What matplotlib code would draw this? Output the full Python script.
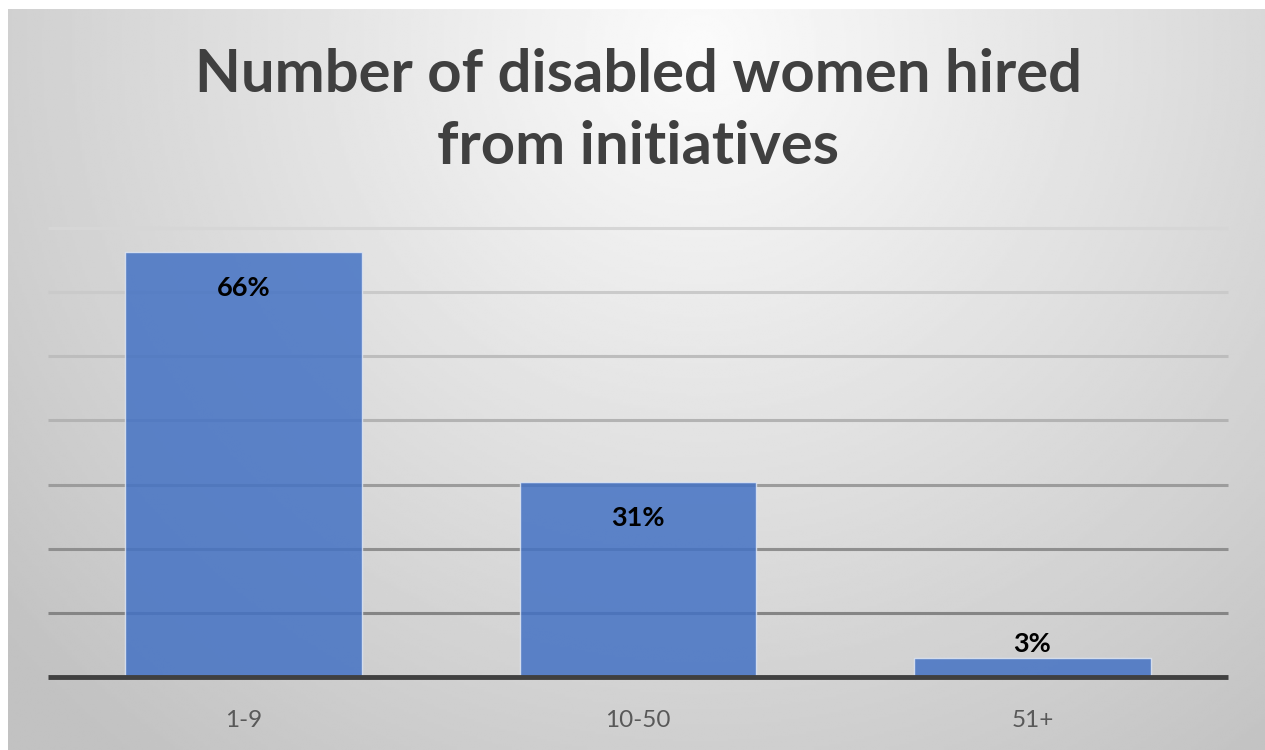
import numpy as np
import matplotlib.pyplot as plt

categories = ['1-9', '10-50', '51+']
shares = [66.2, 30.4, 3.0]
share_labels = ['66%', '31%', '3%']
grid_levels = [10, 20, 30, 40, 50, 60, 70]

plt.rcParams['font.family'] = ['Lato', 'DejaVu Sans']

fig = plt.figure(figsize=(12.65, 7.5), dpi=100)
fig.patch.set_facecolor('white')

# radial grey background, brightest behind the title
bg = fig.add_axes([8 / 1265, 0, 1 - 8 / 1265, 741 / 750], zorder=0)
h, w = 300, 500
yy, xx = np.mgrid[0:h, 0:w]
cx, cy = 0.55 * w, 0.05 * h
r = np.sqrt(((xx - cx) / (0.75 * w)) ** 2 + ((yy - cy) / (1.25 * h)) ** 2)
shade = np.clip(0.985 - 0.23 * r, 0.76, 1.0)
bg.imshow(shade, cmap='gray', vmin=0, vmax=1, aspect='auto', interpolation='bilinear')
bg.axis('off')

ax = fig.add_axes([46.25 / 1265, 73 / 750, (1229.75 - 46.25) / 1265, 449 / 750], zorder=1)
ax.patch.set_alpha(0)

x = np.arange(len(categories))
grid_colors = ['#858585', '#8f8f8f', '#9c9c9c', '#b3b3b3', '#bdbdbd', '#cacaca', '#d6d6d6']
for lvl, c in zip(grid_levels, grid_colors):
    ax.hlines(lvl, -0.495, 2.495, color=c, lw=2.2, zorder=1, clip_on=False)

ax.bar(x, shares, width=0.6, color='#4472c4', alpha=0.85,
       edgecolor='#dfe6f3', linewidth=1.0, zorder=2)
ax.hlines(0, -0.495, 2.495, color='#404040', lw=3.5, zorder=3, clip_on=False)

for xi, v, lab in zip(x, shares, share_labels):
    if v > 10:
        ax.text(xi, v - 5.6, lab, ha='center', va='center', fontsize=19.5,
                fontweight='bold', color='black', zorder=4)
    else:
        ax.text(xi, v + 2.1, lab, ha='center', va='center', fontsize=19.5,
                fontweight='bold', color='black', zorder=4)

ax.set_xlim(-0.5, 2.5)
ax.set_ylim(0, 70)
ax.set_yticks([])
ax.set_xticks(x)
ax.set_xticklabels(categories, fontsize=17.5, color='#595959')
ax.tick_params(axis='x', length=0, pad=24)
for s in ax.spines.values():
    s.set_visible(False)

fig.text(0.5045, 0.852, 'Number of disabled women hired\nfrom initiatives', ha='center',
         va='center', fontsize=43, fontweight='bold', color='#404040', linespacing=1.42)

fig.savefig('out.png', dpi=100)
